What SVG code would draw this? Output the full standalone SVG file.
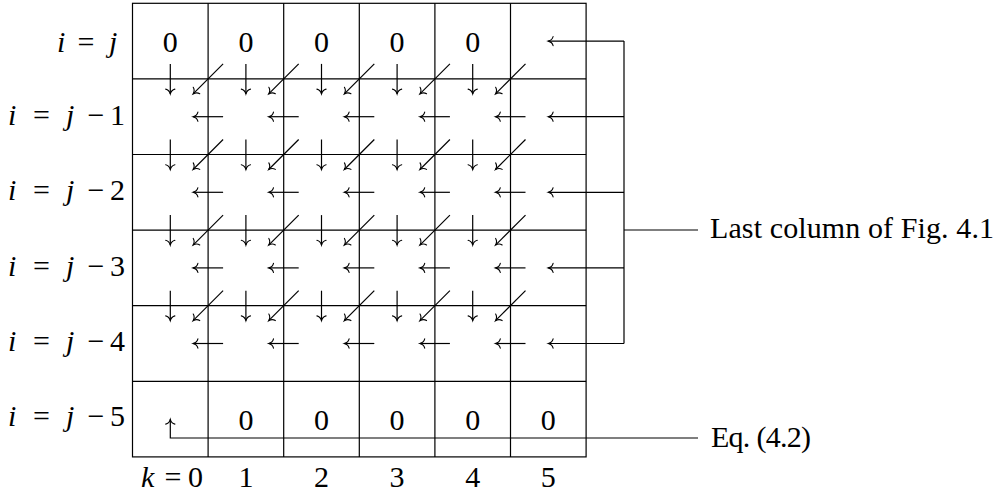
<svg xmlns="http://www.w3.org/2000/svg" width="1008" height="496" viewBox="0 0 1008 496">
<style>
text{font-family:"Liberation Serif","Times New Roman",serif;font-size:30px;fill:#000}
.it{font-style:italic}
.m{text-anchor:middle}
.g{fill:none;stroke:#000;stroke-width:1.2}
.a{fill:none;stroke:#000;stroke-width:1.2;marker-end:url(#tip)}
.l{fill:none;stroke:#000;stroke-width:1.2}
</style>
<defs>
<marker id="tip" markerUnits="userSpaceOnUse" markerWidth="12" markerHeight="12" viewBox="-6 -6 12 12" refX="0" refY="0" orient="auto">
<path d="M-4.8,-4.6 C-4.2,-2 -1.8,-0.5 0,0 C-1.8,0.5 -4.2,2 -4.8,4.6" fill="none" stroke="#000" stroke-width="1.1" stroke-linecap="round"/>
</marker>
</defs>
<rect width="1008" height="496" fill="#fff"/>
<g id="grid">
<rect class="g" x="132.5" y="3.3" width="453.6" height="453.6"/>
<path class="g" d="M208.1 3.3V456.9M283.7 3.3V456.9M359.3 3.3V456.9M434.9 3.3V456.9M510.5 3.3V456.9M132.5 78.9H586.1M132.5 154.5H586.1M132.5 230.1H586.1M132.5 305.7H586.1M132.5 381.3H586.1"/>
</g>
<g id="row-labels">
<text y="52"><tspan class="it" x="57">i</tspan> <tspan x="77.5">=</tspan> <tspan class="it" x="109">j</tspan></text>
<text y="124.5"><tspan class="it" x="8">i</tspan> <tspan x="33">=</tspan> <tspan class="it" x="66">j</tspan> <tspan x="87.5">−</tspan> <tspan x="110">1</tspan></text>
<text y="200"><tspan class="it" x="8">i</tspan> <tspan x="33">=</tspan> <tspan class="it" x="66">j</tspan> <tspan x="87.5">−</tspan> <tspan x="110">2</tspan></text>
<text y="275.5"><tspan class="it" x="8">i</tspan> <tspan x="33">=</tspan> <tspan class="it" x="66">j</tspan> <tspan x="87.5">−</tspan> <tspan x="110">3</tspan></text>
<text y="350.5"><tspan class="it" x="8">i</tspan> <tspan x="33">=</tspan> <tspan class="it" x="66">j</tspan> <tspan x="87.5">−</tspan> <tspan x="110">4</tspan></text>
<text y="426"><tspan class="it" x="8">i</tspan> <tspan x="33">=</tspan> <tspan class="it" x="66">j</tspan> <tspan x="87.5">−</tspan> <tspan x="110">5</tspan></text>
</g>
<g id="col-labels">
<text y="487"><tspan class="it" x="141">k</tspan> <tspan x="164.5">=</tspan> <tspan x="188">0</tspan></text>
<text class="m" x="245.9" y="487">1</text>
<text class="m" x="321.5" y="487">2</text>
<text class="m" x="397.1" y="487">3</text>
<text class="m" x="472.7" y="487">4</text>
<text class="m" x="548.3" y="487">5</text>
</g>
<g id="top-zeros">
<text class="m" x="170.3" y="52">0</text>
<text class="m" x="245.9" y="52">0</text>
<text class="m" x="321.5" y="52">0</text>
<text class="m" x="397.1" y="52">0</text>
<text class="m" x="472.7" y="52">0</text>
</g>
<g id="bottom-zeros">
<text class="m" x="245.9" y="430">0</text>
<text class="m" x="321.5" y="430">0</text>
<text class="m" x="397.1" y="430">0</text>
<text class="m" x="472.7" y="430">0</text>
<text class="m" x="548.3" y="430">0</text>
</g>
<g id="label-last-column">
<text x="710" y="238" textLength="284" lengthAdjust="spacing">Last column of Fig. 4.1</text>
</g>
<g id="label-eq">
<text x="711" y="447" textLength="100" lengthAdjust="spacing">Eq. (4.2)</text>
</g>
<g id="connectors">
<path class="a" d="M170.3 63.9V93.9"/><path class="a" d="M245.9 63.9V93.9"/><path class="a" d="M321.5 63.9V93.9"/><path class="a" d="M397.1 63.9V93.9"/><path class="a" d="M472.7 63.9V93.9"/>
<path class="a" d="M170.3 139.5V169.5"/><path class="a" d="M245.9 139.5V169.5"/><path class="a" d="M321.5 139.5V169.5"/><path class="a" d="M397.1 139.5V169.5"/><path class="a" d="M472.7 139.5V169.5"/>
<path class="a" d="M170.3 215.1V245.1"/><path class="a" d="M245.9 215.1V245.1"/><path class="a" d="M321.5 215.1V245.1"/><path class="a" d="M397.1 215.1V245.1"/><path class="a" d="M472.7 215.1V245.1"/>
<path class="a" d="M170.3 290.7V320.7"/><path class="a" d="M245.9 290.7V320.7"/><path class="a" d="M321.5 290.7V320.7"/><path class="a" d="M397.1 290.7V320.7"/><path class="a" d="M472.7 290.7V320.7"/>
<path class="a" d="M223.1 63.9L193.1 93.9"/><path class="a" d="M298.7 63.9L268.7 93.9"/><path class="a" d="M374.3 63.9L344.3 93.9"/><path class="a" d="M449.9 63.9L419.9 93.9"/><path class="a" d="M525.5 63.9L495.5 93.9"/>
<path class="a" d="M223.1 139.5L193.1 169.5"/><path class="a" d="M298.7 139.5L268.7 169.5"/><path class="a" d="M374.3 139.5L344.3 169.5"/><path class="a" d="M449.9 139.5L419.9 169.5"/><path class="a" d="M525.5 139.5L495.5 169.5"/>
<path class="a" d="M223.1 215.1L193.1 245.1"/><path class="a" d="M298.7 215.1L268.7 245.1"/><path class="a" d="M374.3 215.1L344.3 245.1"/><path class="a" d="M449.9 215.1L419.9 245.1"/><path class="a" d="M525.5 215.1L495.5 245.1"/>
<path class="a" d="M223.1 290.7L193.1 320.7"/><path class="a" d="M298.7 290.7L268.7 320.7"/><path class="a" d="M374.3 290.7L344.3 320.7"/><path class="a" d="M449.9 290.7L419.9 320.7"/><path class="a" d="M525.5 290.7L495.5 320.7"/>
<path class="a" d="M223.1 116.7H193.1"/><path class="a" d="M298.7 116.7H268.7"/><path class="a" d="M374.3 116.7H344.3"/><path class="a" d="M449.9 116.7H419.9"/><path class="a" d="M525.5 116.7H495.5"/>
<path class="a" d="M223.1 192.3H193.1"/><path class="a" d="M298.7 192.3H268.7"/><path class="a" d="M374.3 192.3H344.3"/><path class="a" d="M449.9 192.3H419.9"/><path class="a" d="M525.5 192.3H495.5"/>
<path class="a" d="M223.1 267.9H193.1"/><path class="a" d="M298.7 267.9H268.7"/><path class="a" d="M374.3 267.9H344.3"/><path class="a" d="M449.9 267.9H419.9"/><path class="a" d="M525.5 267.9H495.5"/>
<path class="a" d="M223.1 343.5H193.1"/><path class="a" d="M298.7 343.5H268.7"/><path class="a" d="M374.3 343.5H344.3"/><path class="a" d="M449.9 343.5H419.9"/><path class="a" d="M525.5 343.5H495.5"/>
<path class="l" d="M624 41.1V343.5M624 230H698"/>
<path class="a" d="M624 41.1H548.3"/><path class="a" d="M624 116.7H548.3"/><path class="a" d="M624 192.3H548.3"/><path class="a" d="M624 267.9H548.3"/><path class="a" d="M624 343.5H548.3"/>
<path class="a" d="M698 438H170.3V419.3"/>
</g>
</svg>
